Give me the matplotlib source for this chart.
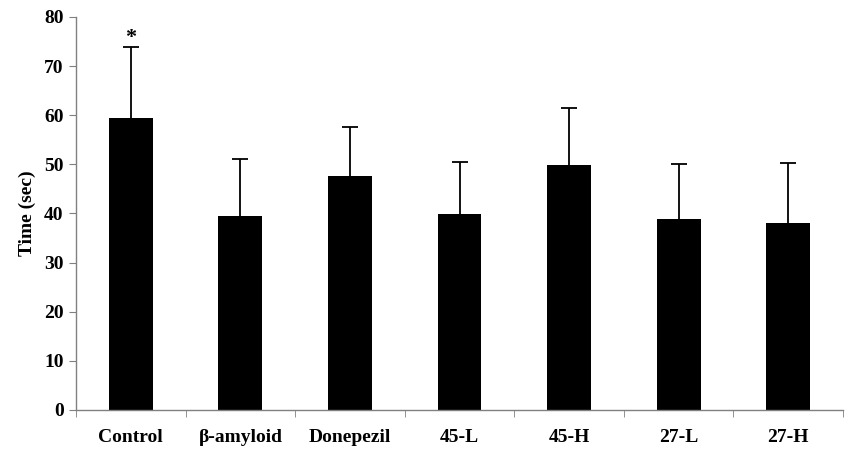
import numpy as np
import matplotlib
matplotlib.use('Agg')
import matplotlib.pyplot as plt

# Data
groups = ['Control', 'β-amyloid', 'Donepezil', '45-L', '45-H', '27-L', '27-H']
means = [59.4, 39.5, 47.6, 39.9, 49.9, 38.9, 38.1]
errors = [14.4, 11.5, 10.1, 10.5, 11.5, 11.1, 12.1]
yticks = [0, 10, 20, 30, 40, 50, 60, 70, 80]

plt.rcParams['font.family'] = ['Liberation Serif', 'DejaVu Serif']
plt.rcParams['font.weight'] = 'bold'

fig = plt.figure(figsize=(8.57, 4.54), dpi=100)
ax = fig.add_axes([0.0887, 0.097, 0.895, 0.8656])

x = np.arange(len(groups))
ax.bar(x, means, width=0.4, color='black', zorder=2)
# upper-only error bars
_, caps, _ = ax.errorbar(x, means, yerr=[np.zeros(len(errors)), errors], fmt='none',
                         ecolor='black', elinewidth=1.3, capsize=6, capthick=1.3, zorder=1)
caps[0].set_visible(False)

# significance mark
ax.text(x[0], means[0] + errors[0] - 0.2, '*', ha='center', va='bottom',
        fontsize=16, fontweight='bold')

ax.set_xlim(-0.5, len(groups) - 0.5)
ax.set_ylim(0, 80)
ax.set_yticks(yticks)
ax.set_xticks(x)
ax.set_xticklabels(groups, fontsize=14, fontweight='bold')
ax.set_xticks(np.arange(len(groups) + 1) - 0.5, minor=True)
ax.tick_params(axis='x', which='major', length=0, pad=14)
ax.tick_params(axis='x', which='minor', length=5, color='#808080', direction='out')
ax.tick_params(axis='y', length=5, color='#808080', labelsize=14, pad=4)
for lab in ax.get_yticklabels():
    lab.set_fontweight('bold')

ax.set_ylabel('Time (sec)', fontsize=14, fontweight='bold', labelpad=6)

for side in ['top', 'right']:
    ax.spines[side].set_visible(False)
for side in ['left', 'bottom']:
    ax.spines[side].set_color('#808080')
    ax.spines[side].set_linewidth(1)

fig.savefig('out.png', dpi=100)
